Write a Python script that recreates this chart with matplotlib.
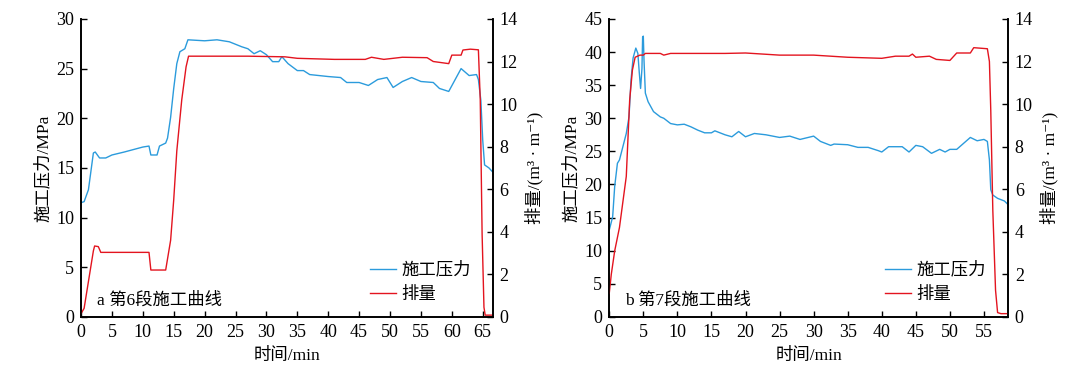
import matplotlib.pyplot as plt

plt.rcParams['font.family'] = ['Liberation Serif', 'Noto Sans CJK SC', 'DejaVu Sans']
plt.rcParams['axes.unicode_minus'] = False

BLUE = '#2b9bdc'
RED = '#e3141f'

# panel a: stage 6
a_p_t = [0, 0.5, 1.2, 2, 2.3, 3, 4, 5, 7, 10, 11, 11.3, 12.3, 12.7, 13.7, 14, 14.5, 15, 15.5,
         16, 16.8, 17.3, 20, 22, 24, 26, 27, 28, 29, 30, 31, 32, 32.5, 33.5, 35, 36, 37,
         40, 42, 43, 45, 46.5, 48, 49.5, 50.5, 52, 53.5, 55, 57, 58, 59.5, 61.5, 62.8,
         64, 64.3, 64.7, 65, 65.3, 66, 66.6]
a_p = [11.5, 11.6, 12.8, 16.5, 16.6, 16.0, 16.0, 16.3, 16.6, 17.1, 17.2, 16.3, 16.3, 17.2,
       17.5, 18.0, 20.1, 23.0, 25.5, 26.7, 27.0, 27.9, 27.8, 27.9, 27.7, 27.2, 27.0, 26.5,
       26.8, 26.4, 25.7, 25.7, 26.2, 25.5, 24.8, 24.8, 24.4, 24.2, 24.1, 23.6, 23.6, 23.3,
       23.9, 24.1, 23.1, 23.7, 24.1, 23.7, 23.6, 23.0, 22.7, 25.0, 24.3, 24.4, 23.9, 21.8,
       17.8, 15.3, 15.0, 14.6]
a_q_t = [0, 0.5, 2, 2.2, 2.8, 3.2, 11, 11.3, 13.7, 14.5, 15, 15.5, 16.3, 17, 17.4, 20, 25,
         27, 33, 35, 41, 46, 47, 49, 52, 56, 57, 59.5, 60, 61.5, 61.8, 63, 64.3, 64.6,
         64.9, 65.2, 65.4, 66.6]
a_q = [0.15, 0.4, 3.1, 3.33, 3.3, 3.03, 3.03, 2.2, 2.2, 3.6, 5.5, 7.8, 10.2, 11.75, 12.25,
       12.25, 12.25, 12.25, 12.22, 12.15, 12.1, 12.1, 12.2, 12.1, 12.2, 12.18, 12.0, 11.9,
       12.3, 12.3, 12.54, 12.58, 12.55, 10.2, 3.9, 0.45, 0.08, 0.08]

# panel b: stage 7
b_p_t = [0, 0.5, 0.8, 1.2, 1.5, 2.5, 2.9, 3.2, 3.5, 3.9, 4.2, 4.4, 4.6, 4.8, 4.9, 5.0, 5.1,
         5.3, 5.7, 6.5, 7.5, 8, 9, 10, 11, 12, 13, 14, 15, 15.5, 17, 18, 19, 20, 21.3, 23,
         25, 26.5, 28, 30, 31, 32.5, 33, 35, 36.5, 38, 39.5, 40, 41, 43, 44, 45, 46, 47.3,
         48.5, 49.3, 50, 51, 52, 53, 54, 55, 55.5, 55.8, 56, 56.3, 57, 58, 58.5]
b_p = [13.1, 15.1, 19.7, 23.2, 23.7, 27.7, 30.2, 35.8, 39.1, 40.6, 39.8, 37.0, 34.5, 37.5,
       42.3, 42.4, 38.8, 33.8, 32.5, 31.0, 30.2, 30.0, 29.2, 29.0, 29.1, 28.7, 28.2, 27.8,
       27.8, 28.1, 27.5, 27.2, 28.0, 27.2, 27.7, 27.5, 27.1, 27.3, 26.8, 27.3, 26.5, 25.9,
       26.1, 26.0, 25.6, 25.6, 25.1, 24.9, 25.7, 25.7, 24.9, 25.9, 25.7, 24.7, 25.3, 24.9,
       25.3, 25.3, 26.2, 27.1, 26.6, 26.8, 26.5, 23.7, 19.2, 18.4, 17.9, 17.5, 17.0]
b_q_t = [0, 0.3, 0.8, 1.5, 2.5, 3.0, 3.4, 3.8, 4.5, 5, 5.3, 7.5, 8, 9, 17, 20, 25, 30, 35,
         40, 42, 44, 44.5, 45, 47, 48, 50, 51, 53, 53.5, 55.5, 55.8, 56, 56.3, 56.7, 57,
         57.5, 58.5]
b_q = [1.1, 2.0, 3.1, 4.2, 6.6, 10.2, 11.6, 12.2, 12.3, 12.3, 12.38, 12.38, 12.3, 12.38,
       12.38, 12.4, 12.3, 12.3, 12.2, 12.15, 12.25, 12.25, 12.35, 12.2, 12.25, 12.1, 12.05,
       12.4, 12.4, 12.65, 12.6, 12.0, 9.7, 5.0, 1.25, 0.2, 0.15, 0.15]

panels = [
    dict(rect=[0.0746, 0.164, 0.379, 0.786], pt=a_p_t, p=a_p, qt=a_q_t, q=a_q,
         xmax=66.6, ymax=30, ystep=5, xticks=range(0, 66, 5), title='a 第6段施工曲线'),
    dict(rect=[0.561, 0.164, 0.367, 0.786], pt=b_p_t, p=b_p, qt=b_q_t, q=b_q,
         xmax=58.5, ymax=45, ystep=5, xticks=range(0, 56, 5), title='b 第7段施工曲线'),
]

fig = plt.figure(figsize=(10.86, 3.79), dpi=100)
for pn in panels:
    ax = fig.add_axes(pn['rect'])
    ax2 = ax.twinx()
    l1, = ax.plot(pn['pt'], pn['p'], color=BLUE, lw=1.0, label='施工压力')
    l2, = ax2.plot(pn['qt'], pn['q'], color=RED, lw=1.0, label='排量')
    ax.set_xlim(0, pn['xmax'])
    ax.set_ylim(0, pn['ymax'])
    ax2.set_ylim(0, 14)
    ax.set_xticks(list(pn['xticks']))
    ax.set_yticks(range(0, pn['ymax'] + 1, pn['ystep']))
    ax2.set_yticks(range(0, 15, 2))
    for a in (ax, ax2):
        a.tick_params(direction='in', labelsize=13, length=4, width=1, pad=5)
        for s in a.spines.values():
            s.set_linewidth(1.2)
    ax.tick_params(axis='x', top=False)
    ax.spines['top'].set_visible(False)
    ax2.spines['top'].set_visible(False)
    ax.set_xlabel('时间/min', fontsize=12.5, labelpad=5)
    ax.set_ylabel('施工压力/MPa', fontsize=12.5, labelpad=3)
    ax2.set_ylabel('排量/(m³ · m⁻¹)', fontsize=12.5, labelpad=5)
    ax.text(0.04, 0.04, pn['title'], transform=ax.transAxes, fontsize=12.5)
    ax.legend([l1, l2], ['施工压力', '排量'], loc='lower right', bbox_to_anchor=(0.985, -0.005),
              frameon=False, fontsize=12.5, handlelength=1.5, handletextpad=0.3,
              labelspacing=0.45)

fig.savefig('out.png', dpi=100)
